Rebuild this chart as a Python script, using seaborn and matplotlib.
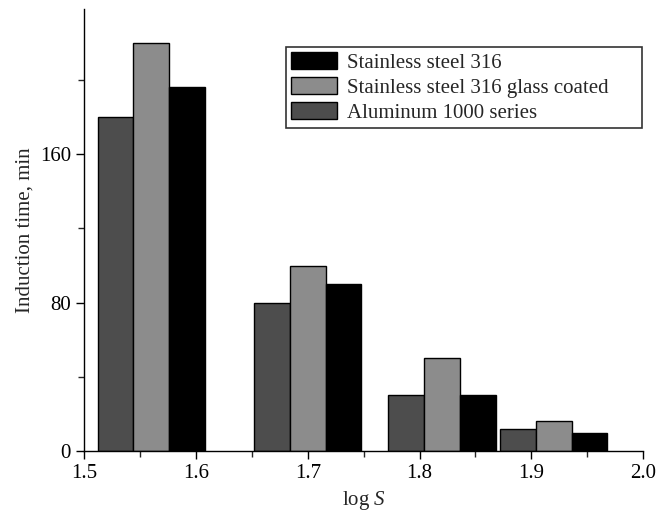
import matplotlib
matplotlib.use("Agg")
import matplotlib.pyplot as plt
from matplotlib.ticker import MultipleLocator
import seaborn as sns
import pandas as pd

# data
log_s = [1.56, 1.70, 1.82, 1.92]
aluminum = [180, 80, 30, 12]
ss316_glass = [220, 100, 50, 16]
ss316 = [196, 90, 30, 10]

materials = ["Aluminum 1000 series", "Stainless steel 316 glass coated", "Stainless steel 316"]
colors = ["#4d4d4d", "#8c8c8c", "#000000"]

rows = []
for name, vals in zip(materials, [aluminum, ss316_glass, ss316]):
    for x, v in zip(log_s, vals):
        rows.append({"log S": x, "time": v, "material": name})
df = pd.DataFrame(rows)

sns.set_style("ticks")
plt.rcParams["font.family"] = ["Liberation Serif", "DejaVu Serif"]
plt.rcParams["mathtext.fontset"] = "custom"
plt.rcParams["mathtext.rm"] = "Liberation Serif"
plt.rcParams["mathtext.it"] = "Liberation Serif:italic"
fs = 15

fig = plt.figure(figsize=(6.57, 5.21), dpi=100)
ax = fig.add_axes([0.128, 0.134, 0.851, 0.848])

sns.barplot(data=df, x="log S", y="time", hue="material", hue_order=materials,
            palette=colors, native_scale=True, width=0.96, dodge=True,
            edgecolor="black", linewidth=1, saturation=1, errorbar=None, ax=ax)

ax.set_xlim(1.5, 2.0)
ax.set_ylim(0, 238)
ax.set_xticks([1.5, 1.6, 1.7, 1.8, 1.9, 2.0])
ax.set_xticklabels(["1.5", "1.6", "1.7", "1.8", "1.9", "2.0"])
ax.xaxis.set_minor_locator(MultipleLocator(0.05))
ax.yaxis.set_major_locator(MultipleLocator(80))
ax.yaxis.set_minor_locator(MultipleLocator(40))
ax.tick_params(which="major", length=6, width=1, direction="out", labelsize=fs, colors="black")
ax.tick_params(which="minor", length=4, width=1, direction="out")
for side in ["top", "right"]:
    ax.spines[side].set_visible(False)
for side in ["left", "bottom"]:
    ax.spines[side].set_color("black")
    ax.spines[side].set_linewidth(1)

ax.set_xlabel("log $\\mathit{S}$", fontsize=fs)
ax.set_ylabel("Induction time, min", fontsize=fs)

# legend in reverse order, as in the original; box stretched to the original width
handles, labels = ax.get_legend_handles_labels()
leg = ax.legend(handles[::-1], labels[::-1], loc="upper left",
                bbox_to_anchor=(0.361, 0.0, 0.636, 0.915), mode="expand",
                borderaxespad=0, frameon=True, fancybox=False, edgecolor="black",
                handlelength=2.2, handleheight=0.9, labelspacing=0.2, handletextpad=0.5,
                borderpad=0.25, fontsize=fs)
leg.get_frame().set_linewidth(1.2)

fig.savefig("out.png", dpi=100)
